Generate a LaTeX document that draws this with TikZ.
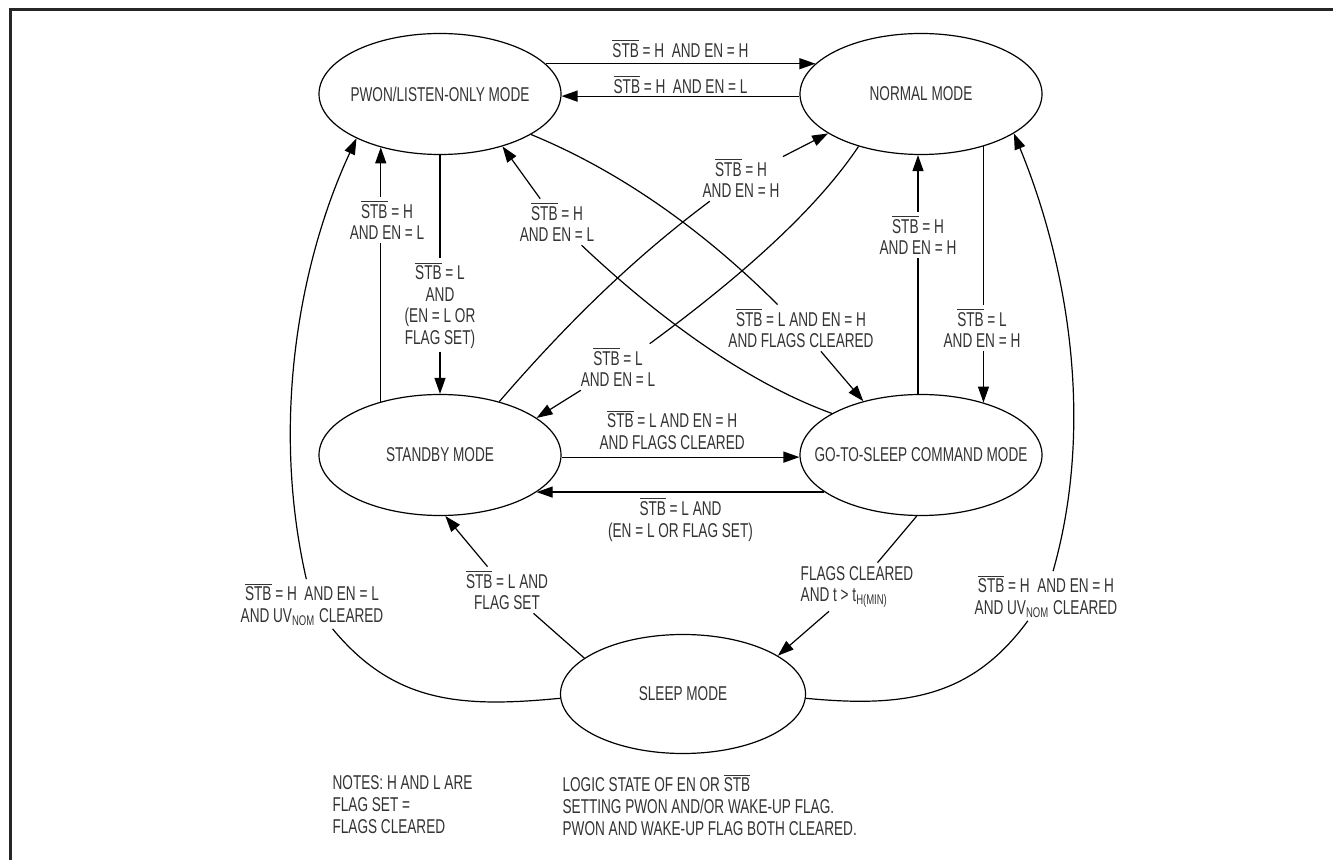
\documentclass[tikz,border=0pt]{standalone}
\usepackage{fontspec}
\setmainfont{Liberation Sans}[FakeStretch=0.68]
\usetikzlibrary{arrows.meta}
\usetikzlibrary{shapes.geometric}
\newcommand{\stb}{$\overline{\hbox{STB}}$}

\begin{document}
\begin{tikzpicture}[x=0.5pt,y=-0.5pt,line width=0.6pt,
		font=\fontsize{10}{10.7}\selectfont,
		estado/.style={draw,ellipse,inner sep=0pt,text=black!80,minimum width=121pt,minimum height=60.5pt},
		cond/.style={inner sep=1.5pt,align=center,text=black!80},
		seta/.style={-{Triangle[length=8pt,width=5.5pt]}}]
			\useasboundingbox (0,0) rectangle (1333,860);
			\draw[line width=1.5pt,black!85] (10,860) -- (10,10) -- (1333,10);

			\node[estado] (pwon) at (440,94) {\makebox[0pt]{PWON/LISTEN-ONLY MODE}};
			\node[estado] (normal) at (921,94) {\makebox[0pt]{NORMAL MODE}};
			\node[estado] (standby) at (440,455) {\makebox[0pt]{STANDBY MODE}};
			\node[estado] (gosleep) at (921,455) {\makebox[0pt]{GO-TO-SLEEP COMMAND MODE}};
			\node[estado,minimum width=122.5pt,minimum height=59.5pt] (sleep) at (683,694) {\makebox[0pt]{SLEEP MODE}};

			\node[cond] (cond3) at (440,305) {\stb{} = L\\AND\\(EN = L OR\\FLAG SET)};
			\node[cond] (cond4) at (387,220) {\stb{} = H\\AND EN = L};
			\node[cond] (cond5) at (557,222) {\stb{} = H\\AND EN = L};
			\node[cond] (cond6) at (801,328) {\stb{} = L AND EN = H\\AND FLAGS CLEARED};
			\node[cond] (cond7) at (618,367) {\stb{} = L\\AND EN = L};
			\node[cond] (cond8) at (741,178) {\stb{} = H\\AND EN = H};
			\node[cond] (cond9) at (918,235) {\stb{} = H\\AND EN = H};
			\node[cond] (cond10) at (982,328) {\stb{} = L\\AND EN = H};
			\node[cond] (cond13) at (507,590) {\stb{} = L AND\\FLAG SET};
			\node[cond,align=left] (cond14) at (857,587) {FLAGS CLEARED\\AND t > t\textsubscript{H(MIN)}};
			\node[cond] (cond15) at (312,604) {\stb{} = H\ \ AND EN = L\\AND UV\textsubscript{NOM} CLEARED};
			\node[cond] (cond16) at (1046,596) {\stb{} = H\ \ AND EN = H\\AND UV\textsubscript{NOM} CLEARED};

			\draw[seta] (pwon.16) -- node[cond,above,inner sep=2.8pt] (cond1) {\stb{} = H\ \ AND EN = H} (normal.164);
			\draw[seta] (normal.181) -- node[cond,above,inner sep=1pt] (cond2) {\stb{} = H\ \ AND EN = L} (pwon.359);
			\draw (pwon) -- (cond3);
			\draw[seta] (cond3) -- (standby);
			\draw (standby.138) -- (standby.138 |- cond4.south);
			\draw[seta] (pwon.222 |- cond4.north) -- (pwon.222);
			\draw (gosleep.155) .. controls (740,380) and (650,310) .. (cond5);
			\draw[seta] (cond5) -- (pwon.320);
			\draw (pwon.336) .. controls (615,169) and (699,226) .. (cond6);
			\draw[seta] (cond6) -- (gosleep.137);
			\draw (normal.220) .. controls (814,213) and (735,281) .. (cond7);
			\draw[seta] (cond7) -- (standby.21);
			\draw (standby.42) .. controls (569,321) and (635,257) .. (cond8);
			\draw[seta] (cond8) -- (normal.203);
			\draw (gosleep.north -| cond9) -- (cond9);
			\draw[seta] (cond9) -- (normal.south -| cond9);
			\draw (normal.320) -- (normal.320 |- cond10.north);
			\draw[seta] (gosleep.40 |- cond10.south) -- (gosleep.40);
			\draw[seta] (standby.359) -- node[cond,above,pos=0.465,inner sep=3.5pt] (cond11) {\stb{} = L AND EN = H\\AND FLAGS CLEARED} (gosleep.181);
			\draw[seta] (gosleep.201) -- node[cond,below,inner sep=2.5pt] (cond12) {\stb{} = L AND\\(EN = L OR FLAG SET)} (standby.339);
			\draw (sleep.160) -- (cond13);
			\draw[seta] (cond13) -- (standby.275);
			\draw (gosleep.266) -- (cond14);
			\draw[seta] (cond14) -- (sleep.22);
			\draw (sleep.182) .. controls (460,708) and (394,703) .. (cond15);
			\draw[seta] (cond15) .. controls (270,420) and (300,260) .. (pwon.208);
			\draw (sleep.358) .. controls (906,708) and (972,697) .. (cond16);
			\draw[seta] (cond16) .. controls (1096,420) and (1066,260) .. (normal.337);

			\node[cond,align=left,anchor=west,inner sep=0pt,font=\fontsize{10}{11}\selectfont] (nota1) at (332,805) {NOTES: H AND L ARE\\FLAG SET =\\FLAGS CLEARED};
			\node[cond,align=left,anchor=west,inner sep=0pt,font=\fontsize{10}{11}\selectfont] (nota2) at (562,805) {LOGIC STATE OF EN OR \stb\\SETTING PWON AND/OR WAKE-UP FLAG.\\PWON AND WAKE-UP FLAG BOTH CLEARED.};
		\end{tikzpicture}
\end{document}
